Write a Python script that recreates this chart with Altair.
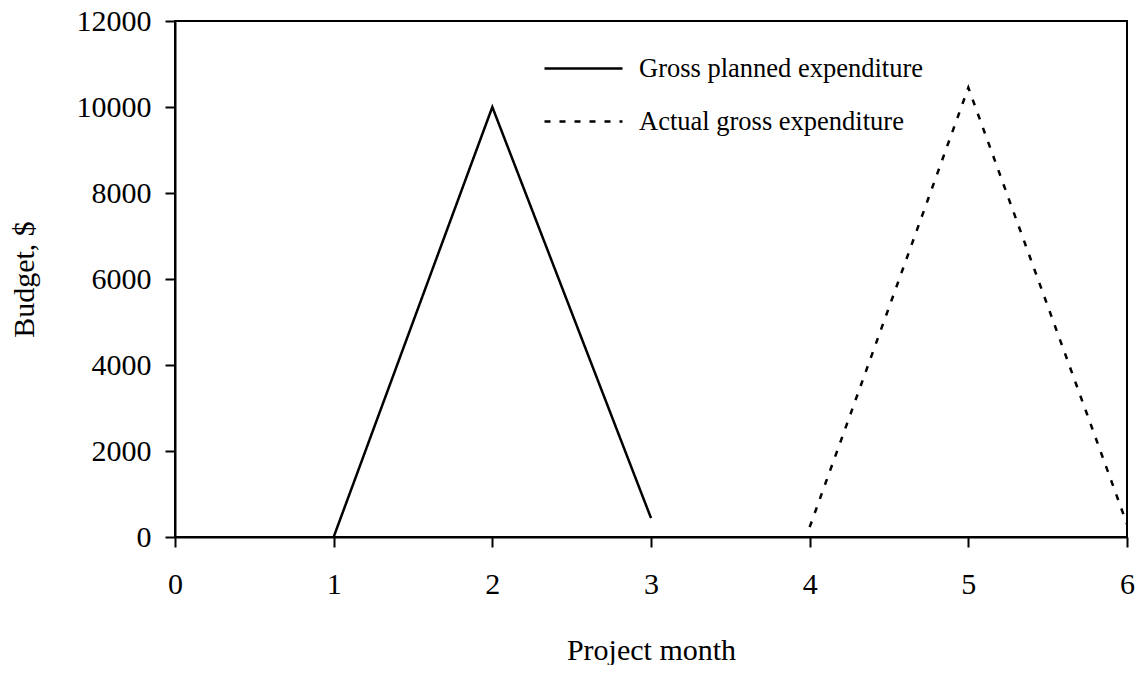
import altair as alt
import pandas as pd

planned_month = [1, 2, 3]
planned_value = [0, 10000, 440]
actual_month = [4, 5, 6]
actual_value = [230, 10450, 300]
series_names = ["Gross planned expenditure", "Actual gross expenditure"]

rows = []
for m, v in zip(planned_month, planned_value):
    rows.append({"month": m, "budget": v, "series": series_names[0]})
for m, v in zip(actual_month, actual_value):
    rows.append({"month": m, "budget": v, "series": series_names[1]})
df = pd.DataFrame(rows)

FONT = "Liberation Serif"

chart = alt.Chart(df).mark_line(color="black", strokeWidth=2.5).encode(
    x=alt.X("month:Q", scale=alt.Scale(domain=[0, 6], nice=False),
            axis=alt.Axis(title="Project month", values=[0, 1, 2, 3, 4, 5, 6], format="d",
                          labelFlush=False, labelPadding=22, titlePadding=36)),
    y=alt.Y("budget:Q", scale=alt.Scale(domain=[0, 12000], nice=False),
            axis=alt.Axis(title="Budget, $", values=[0, 2000, 4000, 6000, 8000, 10000, 12000], format="d",
                          labelFlush=False, labelPadding=14, titlePadding=37)),
    strokeDash=alt.StrokeDash("series:N",
                              scale=alt.Scale(domain=series_names, range=[[1, 0], [6, 9]]),
                              legend=alt.Legend(title=None, orient="none", legendX=368, legendY=35,
                                                symbolType="stroke", symbolSize=6084,
                                                symbolStrokeWidth=2.5, symbolStrokeColor="black",
                                                clipHeight=25, rowPadding=26, labelOffset=15,
                                                labelFont=FONT, labelFontSize=26.5, labelColor="black",
                                                labelLimit=0)),
    detail="series:N",
).properties(
    width=952, height=516,
    padding={"left": 167, "top": 13, "right": 8, "bottom": 128},
    autosize=alt.AutoSizeParams(type="none"),
    background="white",
).configure_view(
    stroke="black", strokeWidth=2
).configure_axis(
    labelFont=FONT, titleFont=FONT, labelFontSize=30, titleFontSize=30,
    labelColor="black", titleColor="black", titleFontWeight="normal",
    domainColor="black", domainWidth=2, tickColor="black", tickWidth=2, tickSize=10,
    grid=False,
)

chart.save("out.html", embed_options={"renderer": "svg", "actions": False})
